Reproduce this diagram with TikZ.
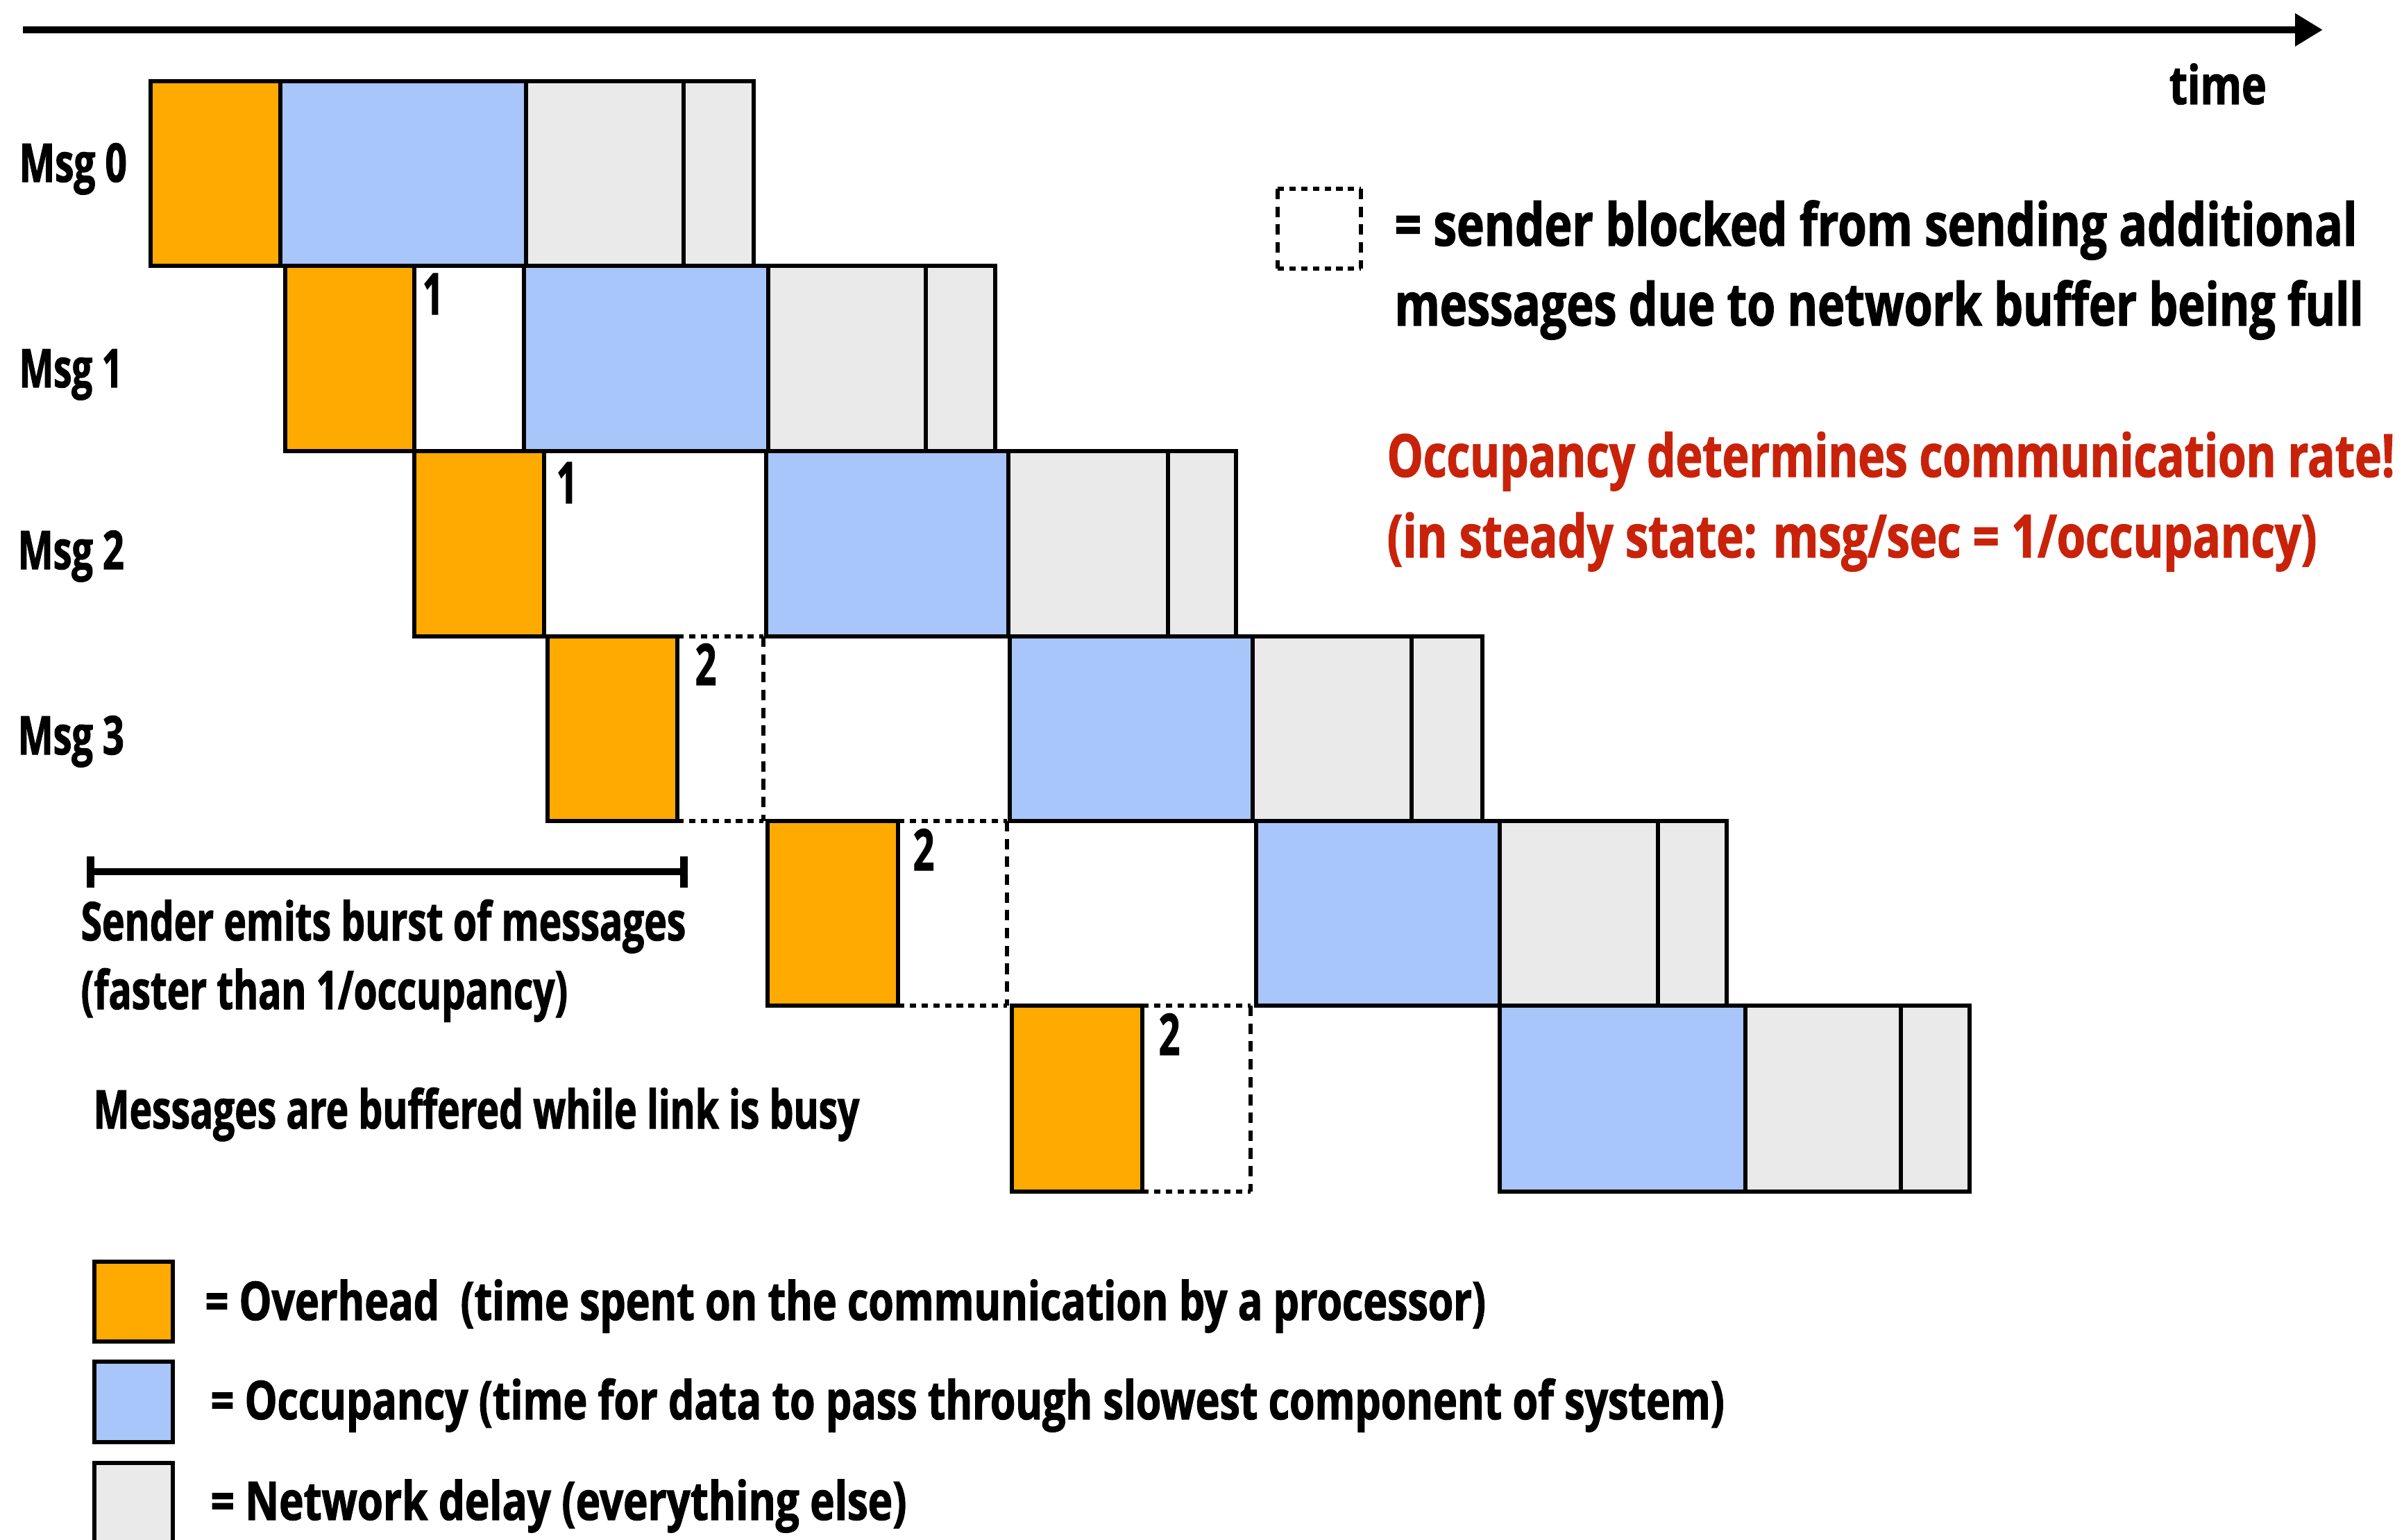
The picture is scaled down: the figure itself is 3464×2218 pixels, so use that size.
\documentclass[tikz,border=0pt]{standalone}
\usepackage{fontspec}
\setmainfont{Open Sans}[FakeStretch=0.65,BoldFeatures={FakeBold=1.3}]
\usepackage{graphicx}
\usetikzlibrary{arrows.meta}
\definecolor{ovhc}{RGB}{255,170,0}
\definecolor{occc}{RGB}{168,198,250}
\definecolor{netc}{RGB}{234,234,234}
\definecolor{redc}{RGB}{200,35,10}
\newcommand{\fitw}[2]{\resizebox{#1}{\height}{#2}}
\newcommand{\blockedbox}[4]{%
  \draw[dashh] (#1,#2) -- (#3,#2) (#1,#4) -- (#3,#4);
  \draw[dashv] (#1,#2) -- (#1,#4) (#3,#2) -- (#3,#4);}
\begin{document}
\begin{tikzpicture}[x=0.01cm,y=-0.01cm,
  box/.style={draw=black,line width=1.5pt},
  ovh/.style={box,fill=ovhc},
  occ/.style={box,fill=occc},
  net/.style={box,fill=netc},
  wht/.style={box,fill=white},
  dashh/.style={line width=1.5pt,dash pattern=on 2.6pt off 2.2pt},
  dashv/.style={line width=1.5pt,dash pattern=on 4.3pt off 3pt},
  txt/.style={inner sep=0pt,anchor=base west,font=\bfseries\fontsize{21.9}{26}\selectfont},
  big/.style={txt,font=\bfseries\fontsize{24.3}{29}\selectfont},
  num/.style={txt,font=\bfseries\fontsize{23.5}{28}\selectfont},
]
\clip (0,0) rectangle (3464,2218);
\fill[white] (0,0) rectangle (3464,2218);

% time axis
\coordinate (tstart) at (33,43);
\coordinate (tend) at (3347,43);
\draw[line width=3.1pt,-{Triangle[length=0.40cm,width=0.45cm]}] (tstart) -- (tend);
\node[txt] (time) at (3125,150) {\fitw{1.40cm}{time}};

% Msg 0
\draw[ovh] (217,117) rectangle (404,383);
\draw[occ] (404,117) rectangle (758,383);
\draw[net] (758,117) rectangle (985,383);
\draw[net] (985,117) rectangle (1086,383);
% Msg 1
\draw[ovh] (411,383) rectangle (597,650);
\draw[wht] (597,383) rectangle (755,650);
\draw[occ] (755,383) rectangle (1107,650);
\draw[net] (1107,383) rectangle (1334,650);
\draw[net] (1334,383) rectangle (1434,650);
% Msg 2
\draw[ovh] (597,650) rectangle (784,917);
\draw[occ] (1104,650) rectangle (1453,917);
\draw[net] (1453,650) rectangle (1683,917);
\draw[net] (1683,650) rectangle (1781,917);
% Msg 3
\draw[ovh] (789,917) rectangle (976,1183);
\blockedbox{976}{917}{1100}{1183}
\draw[occ] (1455,917) rectangle (1805,1183);
\draw[net] (1805,917) rectangle (2034,1183);
\draw[net] (2034,917) rectangle (2136,1183);
% Msg 4
\draw[ovh] (1106,1183) rectangle (1294,1449);
\blockedbox{1294}{1183}{1451}{1449}
\draw[occ] (1810,1183) rectangle (2161,1449);
\draw[net] (2161,1183) rectangle (2389,1449);
\draw[net] (2389,1183) rectangle (2488,1449);
% Msg 5
\draw[ovh] (1458,1449) rectangle (1646,1717);
\blockedbox{1646}{1449}{1802}{1717}
\draw[occ] (2161,1449) rectangle (2515,1717);
\draw[net] (2515,1449) rectangle (2739,1717);
\draw[net] (2739,1449) rectangle (2838,1717);

% row labels
\node[txt] (m0) at (27,262) {\fitw{1.55cm}{Msg 0}};
\node[txt] (m1) at (27,558) {\fitw{1.49cm}{Msg 1}};
\node[txt] (m2) at (25,820) {\fitw{1.53cm}{Msg 2}};
\node[txt] (m3) at (25,1087) {\fitw{1.53cm}{Msg 3}};

% buffer counts
\node[num] (c1) at (608,453) {1};
\node[num] (c2) at (801,725) {1};
\node[num] (c3) at (1001,987) {2};
\node[num] (c4) at (1315,1254) {2};
\node[num] (c5) at (1669,1520) {2};

% blocked legend
\blockedbox{1841}{272}{1961}{387}
\node[big] (bl1) at (2009,354) {\fitw{13.86cm}{= sender blocked from sending additional}};
\node[big] (bl2) at (2009,469) {\fitw{13.95cm}{messages due to network buffer being full}};

% red note
\node[big,text=redc] (r1) at (1998,687) {\fitw{14.51cm}{Occupancy determines communication rate!}};
\node[big,text=redc] (r2) at (1998,803) {\fitw{13.39cm}{(in steady state: msg/sec = 1/occupancy)}};

% burst
\coordinate (bs) at (125,1256);
\coordinate (be) at (991,1256);
\draw[line width=3.1pt,{Bar[width=0.45cm]}-{Bar[width=0.45cm]}] (bs) -- (be);
\node[txt] (bt1) at (116,1355) {\fitw{8.71cm}{Sender emits burst of messages}};
\node[txt] (bt2) at (116,1454) {\fitw{7.01cm}{(faster than 1/occupancy)}};
\node[txt] (buf) at (134,1626) {\fitw{11.03cm}{Messages are buffered while link is busy}};

% legend
\draw[ovh] (136,1818) rectangle (249,1933);
\draw[occ] (136,1962) rectangle (249,2078);
\draw[net] (136,2108) rectangle (249,2260);
\node[txt] (l1) at (295,1902) {\fitw{18.44cm}{= Overhead\ \ (time spent on the communication by a processor)}};
\node[txt] (l2) at (303,2045) {\fitw{21.80cm}{= Occupancy (time for data to pass through slowest component of system)}};
\node[txt] (l3) at (303,2190) {\fitw{10.02cm}{= Network delay (everything else)}};
\end{tikzpicture}
\end{document}
